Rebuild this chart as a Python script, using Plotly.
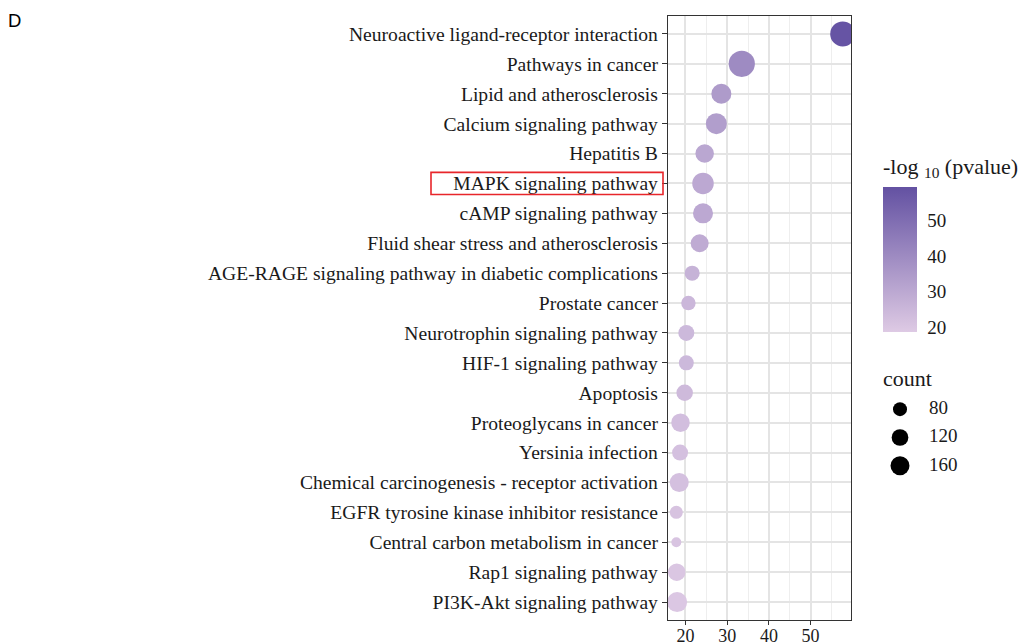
import numpy as np
import plotly.graph_objects as go

pathways = [
    "Neuroactive ligand-receptor interaction",
    "Pathways in cancer",
    "Lipid and atherosclerosis",
    "Calcium signaling pathway",
    "Hepatitis B",
    "MAPK signaling pathway",
    "cAMP signaling pathway",
    "Fluid shear stress and atherosclerosis",
    "AGE-RAGE signaling pathway in diabetic complications",
    "Prostate cancer",
    "Neurotrophin signaling pathway",
    "HIF-1 signaling pathway",
    "Apoptosis",
    "Proteoglycans in cancer",
    "Yersinia infection",
    "Chemical carcinogenesis - receptor activation",
    "EGFR tyrosine kinase inhibitor resistance",
    "Central carbon metabolism in cancer",
    "Rap1 signaling pathway",
    "PI3K-Akt signaling pathway",
]
x_values = [57.7, 33.5, 28.6, 27.4, 24.6, 24.2, 24.2, 23.4, 21.6, 20.7,
            20.2, 20.2, 19.8, 18.8, 18.7, 18.5, 17.8, 17.8, 17.9, 18.0]
neg_log_p = [58.5, 40.0, 34.5, 33.5, 30.5, 30.0, 30.0, 29.0, 26.5, 25.0,
             24.5, 24.5, 24.0, 22.5, 22.0, 22.0, 21.0, 20.5, 20.0, 19.5]
counts = [288, 318, 179, 199, 151, 209, 179, 142, 94, 87,
          109, 94, 117, 151, 109, 160, 67, 33, 134, 179]
legend_counts = [80, 120, 160]
x_ticks = [20, 30, 40, 50]
cbar_ticks = [20, 30, 40, 50]

SERIF = "Liberation Serif"
TXT = "#1a1a1a"
OFF = 8                      # page body margin
W, H = 1021, 634
PT, PB = 16, 620             # plot top / bottom on page
PH = PB - PT


def size_scale(c):
    c = np.asarray(c, dtype=float)
    return np.sqrt(2.06 * c + 31.0)


def px(xpage):
    return (xpage - OFF) / W


def py(ypage):
    return (PB - ypage) / PH


colorscale = [[0.0, "#DECAE4"], [1.0, "#6351A2"]]

xmin, xmax = min(x_values), max(x_values)
pad = 0.05 * (xmax - xmin)

fig = go.Figure()
fig.add_trace(go.Scatter(
    x=x_values, y=pathways, mode="markers",
    marker=dict(
        size=size_scale(counts), sizemode="diameter",
        color=neg_log_p, colorscale=colorscale,
        cmin=18.6, cmax=59.6, opacity=1, line=dict(width=0),
        colorbar=dict(
            title=dict(text="-log <sub>10</sub> (pvalue)", side="top",
                       font=dict(family=SERIF, size=22, color=TXT)),
            x=px(883), xanchor="left", xref="paper",
            y=py(243), yanchor="middle", yref="paper",
            thickness=34, thicknessmode="pixels",
            len=178, lenmode="pixels",
            tickvals=cbar_ticks, ticks="outside", tickcolor="white",
            ticklen=7, tickwidth=1,
            tickfont=dict(family=SERIF, size=19, color=TXT),
            outlinewidth=0, ypad=0, xpad=0,
        ),
    ),
    showlegend=False, hoverinfo="x+y",
))

# size legend
fig.add_trace(go.Scatter(
    x=[20] * len(legend_counts), y=[str(c) for c in legend_counts],
    mode="markers", marker=dict(size=size_scale(legend_counts), color="#000000",
                                opacity=1, line=dict(width=0)),
    xaxis="x2", yaxis="y2", showlegend=False, hoverinfo="skip",
))
fig.add_trace(go.Scatter(
    x=[49] * len(legend_counts), y=[str(c) for c in legend_counts],
    mode="text", text=[str(c) for c in legend_counts],
    textposition="middle right",
    textfont=dict(family=SERIF, size=19, color=TXT),
    xaxis="x2", yaxis="y2", showlegend=False, hoverinfo="skip",
))

mapk_idx = pathways.index("MAPK signaling pathway")
ax_l, ax_r = 668, 851
ax_w = ax_r - ax_l

fig.update_layout(
    width=W, height=H,
    margin=dict(l=0, r=0, t=PT - OFF, b=H - (PB - OFF)),
    paper_bgcolor="white", plot_bgcolor="white",
    xaxis=dict(
        domain=[px(ax_l), px(ax_r)],
        range=[xmin - pad, xmax + pad], tickvals=x_ticks,
        showgrid=True, gridcolor="#E4E4E4", gridwidth=1.6,
        minor=dict(dtick=5, tick0=0, showgrid=True, gridcolor="#EEEEEE", gridwidth=0.9),
        showline=True, linecolor="#333333", linewidth=1.3, mirror=True,
        ticks="outside", ticklen=4, tickcolor="#333333", tickwidth=1.3,
        ticklabelstandoff=-5,
        tickfont=dict(family=SERIF, size=18, color=TXT),
        zeroline=False, automargin=False,
    ),
    yaxis=dict(
        domain=[0, 1],
        categoryorder="array", categoryarray=pathways[::-1],
        range=[-0.6, len(pathways) - 0.4],
        showgrid=True, gridcolor="#E4E4E4", gridwidth=1.6,
        showline=True, linecolor="#333333", linewidth=1.3, mirror=True,
        ticks="outside", ticklen=5, tickcolor="#333333", tickwidth=1.3,
        tickfont=dict(family=SERIF, size=19.6, color=TXT),
        zeroline=False, automargin=False,
    ),
    xaxis2=dict(domain=[px(880), px(1020)], range=[0, 140], visible=False,
                anchor="y2", fixedrange=True),
    yaxis2=dict(domain=[py(480), py(395)], range=[-0.5, 2.5], visible=False,
                anchor="x2", categoryorder="array",
                categoryarray=[str(c) for c in legend_counts[::-1]],
                fixedrange=True),
    annotations=[
        dict(text="D", xref="paper", yref="paper",
             x=px(6), y=py(21), xanchor="left", yanchor="middle",
             showarrow=False, font=dict(family="Liberation Sans", size=18.5, color="black")),
        dict(text="count", xref="paper", yref="paper",
             x=px(881), y=py(378), xanchor="left", yanchor="middle",
             showarrow=False, font=dict(family=SERIF, size=22, color=TXT)),
    ],
    shapes=[
        dict(type="rect", xref="x domain", yref="y",
             x0=(431 - ax_l) / ax_w, x1=(663 - ax_l) / ax_w,
             y0=len(pathways) - 1 - mapk_idx - 0.37,
             y1=len(pathways) - 1 - mapk_idx + 0.37,
             line=dict(color="#E8262B", width=1.6), fillcolor="rgba(0,0,0,0)"),
    ],
)

fig.write_html("out.html")
